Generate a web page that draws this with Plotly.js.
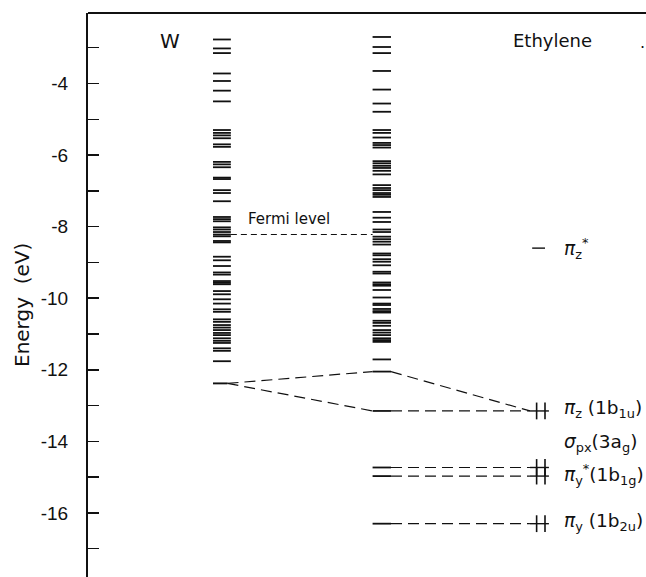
<!DOCTYPE html>
<html>
<head>
<meta charset="utf-8">
<script src="https://cdn.plot.ly/plotly-3.0.1.min.js"></script>
<style>
  html, body { margin: 0; padding: 0; background: #fff; }
  #chart { width: 646px; height: 577px; }
</style>
</head>
<body>
<div id="chart"></div>
<script>
// Energy levels (eV) of the bare W cluster band
const wBand = [-2.77, -3.02, -3.15, -3.72, -3.93, -4.20, -4.50, -5.30, -5.38, -5.45,
  -5.53, -5.70, -5.77, -6.19, -6.26, -6.34, -6.63, -6.67, -6.98, -7.06,
  -7.29, -7.73, -7.79, -7.85, -8.02, -8.08, -8.15, -8.22, -8.27, -8.40,
  -8.44, -8.84, -8.94, -9.10, -9.28, -9.34, -9.52, -9.57, -9.61, -9.80,
  -9.89, -10.03, -10.15, -10.31, -10.38, -10.59, -10.66, -10.75, -10.82, -10.89,
  -10.97, -11.03, -11.12, -11.19, -11.25, -11.40, -11.47, -11.76];

// W level that mixes with the adsorbate
const wMixLevel = -12.38;

// Energy levels (eV) of the W cluster with ethylene adsorbed
const complexBand = [-2.70, -2.98, -3.15, -3.65, -4.17, -4.56, -4.79, -5.30, -5.38, -5.51,
  -5.66, -5.72, -5.79, -6.17, -6.23, -6.30, -6.36, -6.44, -6.54, -6.84,
  -6.92, -6.98, -7.06, -7.11, -7.17, -7.59, -7.75, -7.87, -8.08, -8.15,
  -8.28, -8.35, -8.42, -8.50, -8.75, -8.80, -8.91, -8.98, -9.08, -9.26,
  -9.31, -9.56, -9.61, -9.65, -9.77, -9.98, -10.15, -10.19, -10.30, -10.36,
  -10.40, -10.63, -10.69, -10.77, -10.89, -10.96, -11.03, -11.12, -11.17, -11.22,
  -11.71];

// Complex levels derived from ethylene orbitals, and the orbital each one comes from
const complexMixed = [-12.05, -13.15, -14.73, -14.97, -16.30];
const complexSource = [1, 1, 2, 3, 4];

// Free ethylene orbitals
const ethLevels = [-8.60, -13.15, -14.73, -14.97, -16.30];
const ethOccupancy = [0, 2, 2, 2, 2];
const ethLabels = [
  '<i>π</i><sub>z</sub><sup>*</sup>',
  '<i>π</i><sub>z</sub> (1b<sub>1u</sub>)',
  '<i>σ</i><sub>px</sub>(3a<sub>g</sub>)',
  '<i>π</i><sub>y</sub><sup>*</sup>(1b<sub>1g</sub>)',
  '<i>π</i><sub>y</sub> (1b<sub>2u</sub>)'
];
const ethLabelY = [-8.60, -13.10, -14.05, -14.92, -16.25];

const fermiLevel = -8.22;

// Energy axis ticks
const majorTicks = [-16, -14, -12, -10, -8, -6, -4];
const majorTickText = ['-16', '-14', '-12', '-10', '-8', '-6', '-4'];

// Column geometry on a 0..100 horizontal scale
const COL = {
  wL: 22.4, wR: 25.6, wMixR: 25.0,
  cL: 51.0, cR: 54.3,
  eL: 79.2, eR: 82.6, eStarL: 79.6, eStarR: 81.9,
  e1: 80.4, e2: 81.9, label: 85.0, fermiText: 36.0
};

function segments(levels, x0, x1) {
  const xs = [], ys = [];
  levels.forEach(v => { xs.push(x0, x1, null); ys.push(v, v, null); });
  return {xs, ys};
}

const black = '#111';
const traces = [];

const wSeg = segments(wBand, COL.wL, COL.wR);
traces.push({x: wSeg.xs, y: wSeg.ys, mode: 'lines', line: {color: black, width: 1.8}, hoverinfo: 'skip'});

const wMix = segments([wMixLevel], COL.wL, COL.wMixR);
traces.push({x: wMix.xs, y: wMix.ys, mode: 'lines', line: {color: black, width: 1.9}, hoverinfo: 'skip'});

const cSeg = segments(complexBand.concat(complexMixed), COL.cL, COL.cR);
traces.push({x: cSeg.xs, y: cSeg.ys, mode: 'lines', line: {color: black, width: 1.8}, hoverinfo: 'skip'});

// Ethylene levels: short bars
const eX = [], eY = [];
ethLevels.forEach((v, i) => {
  if (ethOccupancy[i] === 0) { eX.push(COL.eStarL, COL.eStarR, null); }
  else { eX.push(COL.eL, COL.eR, null); }
  eY.push(v, v, null);
});
traces.push({x: eX, y: eY, mode: 'lines', line: {color: black, width: 1.4}, hoverinfo: 'skip'});

// Correlation lines: W level to the two complex levels, complex levels to ethylene orbitals
const dX = [], dY = [];
[complexMixed[0], complexMixed[1]].forEach(v => {
  dX.push(COL.wMixR, COL.cL, null); dY.push(wMixLevel, v, null);
});
complexMixed.forEach((v, i) => {
  dX.push(COL.cR, COL.eL, null); dY.push(v, ethLevels[complexSource[i]], null);
});
traces.push({x: dX, y: dY, mode: 'lines', line: {color: black, width: 1.2, dash: '11px,6px'}, hoverinfo: 'skip'});

// Fermi level
traces.push({x: [COL.wR, COL.cL], y: [fermiLevel, fermiLevel], mode: 'lines',
  line: {color: black, width: 1.1, dash: '6px,4px'}, hoverinfo: 'skip'});

// Electron pairs as vertical strokes
const elX = [], elY = [];
ethLevels.forEach((v, i) => {
  if (ethOccupancy[i] >= 1) { elX.push(COL.e1); elY.push(v); }
  if (ethOccupancy[i] >= 2) { elX.push(COL.e2); elY.push(v); }
});
traces.push({x: elX, y: elY, mode: 'markers', hoverinfo: 'skip',
  marker: {symbol: 'line-ns', size: 12, color: black, line: {color: black, width: 1.6}}});

const font = 'DejaVu Sans, Liberation Sans, sans-serif';
const tickFont = 'Liberation Sans, Arial, sans-serif';
const annotations = [
  {text: 'W', x: 14.7, y: -2.80, xref: 'x', yref: 'y', showarrow: false, font: {size: 20, family: font, color: black}},
  {text: 'Ethylene', x: 83.2, y: -2.80, xref: 'x', yref: 'y', showarrow: false, font: {size: 18, family: font, color: black}},
  {text: '.', x: 99.3, y: -2.85, xref: 'x', yref: 'y', showarrow: false, font: {size: 16, family: font, color: black}},
  {text: 'Fermi level', x: COL.fermiText, y: fermiLevel + 0.42, xref: 'x', yref: 'y', showarrow: false,
    font: {size: 15, family: font, color: black}},
  // axis title, placed in figure pixels (x = 22 px, y = 305 px)
  {text: 'Energy  (eV)', x: (22 - 88) / 558, y: (577 - 305) / 564, xref: 'paper', yref: 'paper',
    xanchor: 'center', yanchor: 'middle', showarrow: false, textangle: -90,
    font: {size: 20, family: font, color: black}}
];

ethLabels.forEach((t, i) => {
  annotations.push({text: t, x: COL.label, y: ethLabelY[i], xref: 'x', yref: 'y', xanchor: 'left',
    showarrow: false, font: {size: 18.5, family: font, color: black}});
});

const layout = {
  width: 646, height: 577,
  margin: {l: 88, r: 0, t: 13, b: 0},
  paper_bgcolor: '#fff', plot_bgcolor: '#fff',
  showlegend: false,
  xaxis: {range: [0, 100], visible: false, fixedrange: true},
  yaxis: {
    range: [-17.79, -2.03], fixedrange: true,
    tickvals: majorTicks, ticktext: majorTickText,
    ticks: 'inside', ticklen: 11, tickwidth: 1.5, tickcolor: black,
    showline: true, linecolor: black, linewidth: 2, showgrid: false, zeroline: false,
    ticklabelstandoff: 14,
    tickfont: {size: 19, family: tickFont, color: black},
    minor: {dtick: 1, tick0: 0, ticks: 'inside', ticklen: 11, tickwidth: 1.5, tickcolor: black, showgrid: false}
  },
  shapes: [{type: 'line', xref: 'paper', yref: 'paper', x0: 0, x1: 1, y0: 1, y1: 1, line: {color: black, width: 2}}],
  annotations: annotations
};

Plotly.newPlot('chart', traces, layout, {staticPlot: true, displayModeBar: false});
</script>
</body>
</html>
